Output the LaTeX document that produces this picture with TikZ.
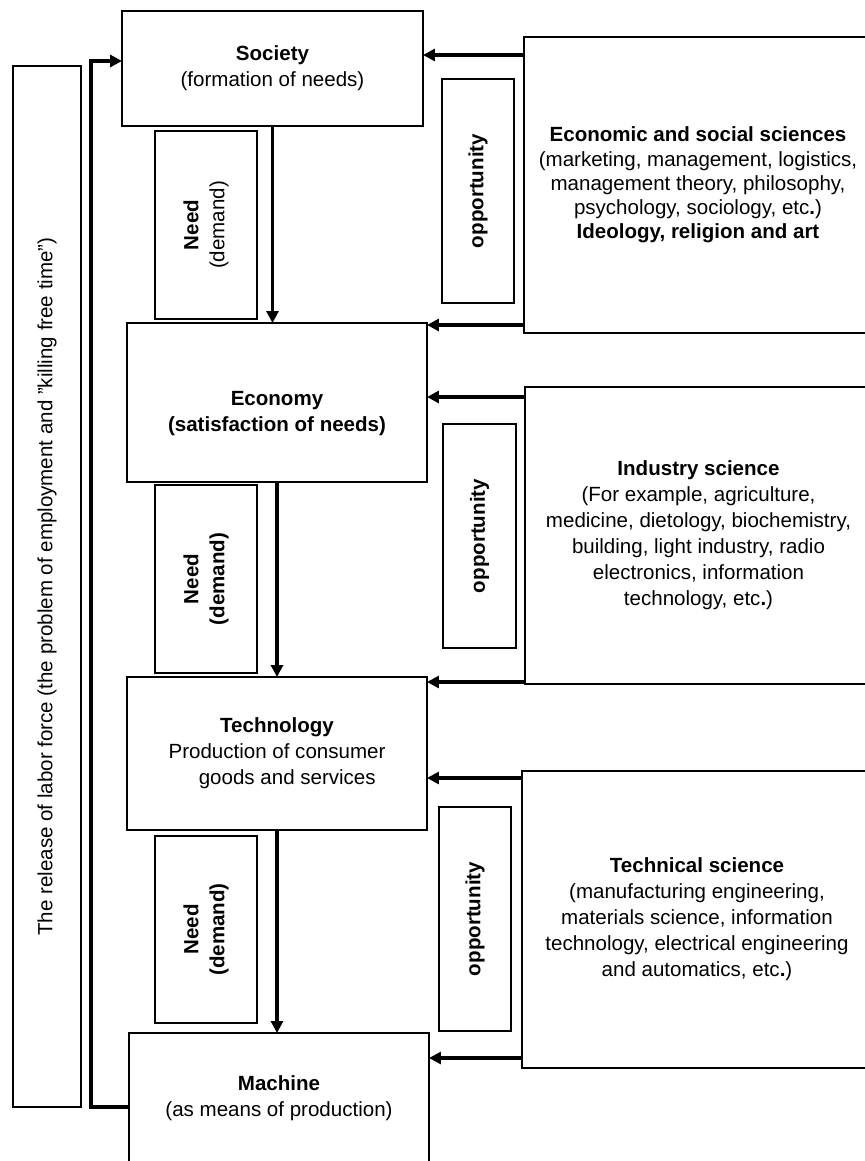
\documentclass[tikz,border=0pt]{standalone}
\usepackage{fontspec}
\setmainfont{Liberation Sans}
\usetikzlibrary{arrows.meta}

\tikzset{
  box/.style={draw, line width=0.9pt, align=center, inner sep=1pt, outer sep=0pt,
    font=\fontsize{14.6}{18.5}\selectfont},
  sz/.style 2 args={minimum width=#1*0.025cm, minimum height=#2*0.025cm},
  flow/.style={line width=2.2pt, -{Triangle[length=8.5pt,width=8.5pt]}},
}

\begin{document}
\begin{tikzpicture}[x=0.025cm,y=-0.025cm]
\useasboundingbox (0,0) rectangle (864,1161);

\node[box, sz={301}{115}] (soc) at (272.5,68.5) {\textbf{Society}\\(formation of needs)};
\node[box, sz={300}{159}] (eco) at (277,402.5) {\rule{0pt}{26pt}\textbf{Economy}\\\textbf{(satisfaction of needs)}};
\node[box, sz={300}{153}] (tec) at (277,753.5) {\textbf{Technology}\\Production of consumer\\\hspace{1em}goods and services};
\node[box, sz={300}{130}] (mac) at (279,1098) {\textbf{Machine}\\(as means of production)};

\node[box, rotate=90, sz={188}{102}] (need1) at (206,225) {\textbf{Need}\\(demand)};
\node[box, rotate=90, sz={188}{102}] (need2) at (206,579) {\textbf{Need}\\\textbf{(demand)}};
\node[box, rotate=90, sz={187}{102}] (need3) at (206,929.5) {\textbf{Need}\\\textbf{(demand)}};

\node[box, rotate=90, sz={224}{72}] (opp1) at (478,191) {\textbf{opportunity}};
\node[box, rotate=90, sz={224}{73}] (opp2) at (479.5,536) {\textbf{opportunity}};
\node[box, rotate=90, sz={224}{72}] (opp3) at (475,919) {\textbf{opportunity}};

\node[box, rotate=90, sz={1041}{68}] (rel) at (47,586.5)
  {The release of labor force (the problem of employment and "killing free time")};

\node[box, sz={348}{296}, font=\fontsize{14.6}{17.2}\selectfont] (sci1) at (698,185)
  {\textbf{Economic and social sciences}\\(marketing, management, logistics,\\management theory, philosophy,\\psychology, sociology, etc\textbf{.})\\\textbf{Ideology, religion and art}};
\node[box, sz={347}{297}] (sci2) at (698.5,535.5)
  {\textbf{Industry science}\\(For example, agriculture,\\medicine, dietology, biochemistry,\\building, light industry, radio\\electronics, information\\technology, etc\textbf{.})};
\node[box, sz={350}{297}] (sci3) at (697,919.5)
  {\textbf{Technical science}\\(manufacturing engineering,\\materials science, information\\technology, electrical engineering\\and automatics, etc\textbf{.})};

\draw[flow] (soc.south) -- (soc.south |- eco.north);
\draw[flow] (eco.south) -- (eco.south |- tec.north);
\draw[flow] (tec.south) -- (tec.south |- mac.north);

\foreach \s/\t/\y in {sci1/soc/55, sci1/eco/325, sci2/eco/397, sci2/tec/682, sci3/tec/778, sci3/mac/1058}
  \draw[flow] (\s.west |- 0,\y) -- (\t.east |- 0,\y);

\coordinate (fb) at (91,1107);
\draw[flow, line width=2.8pt] (mac.west |- fb) -- (fb) |- (soc.west |- 0,61);
\end{tikzpicture}
\end{document}
